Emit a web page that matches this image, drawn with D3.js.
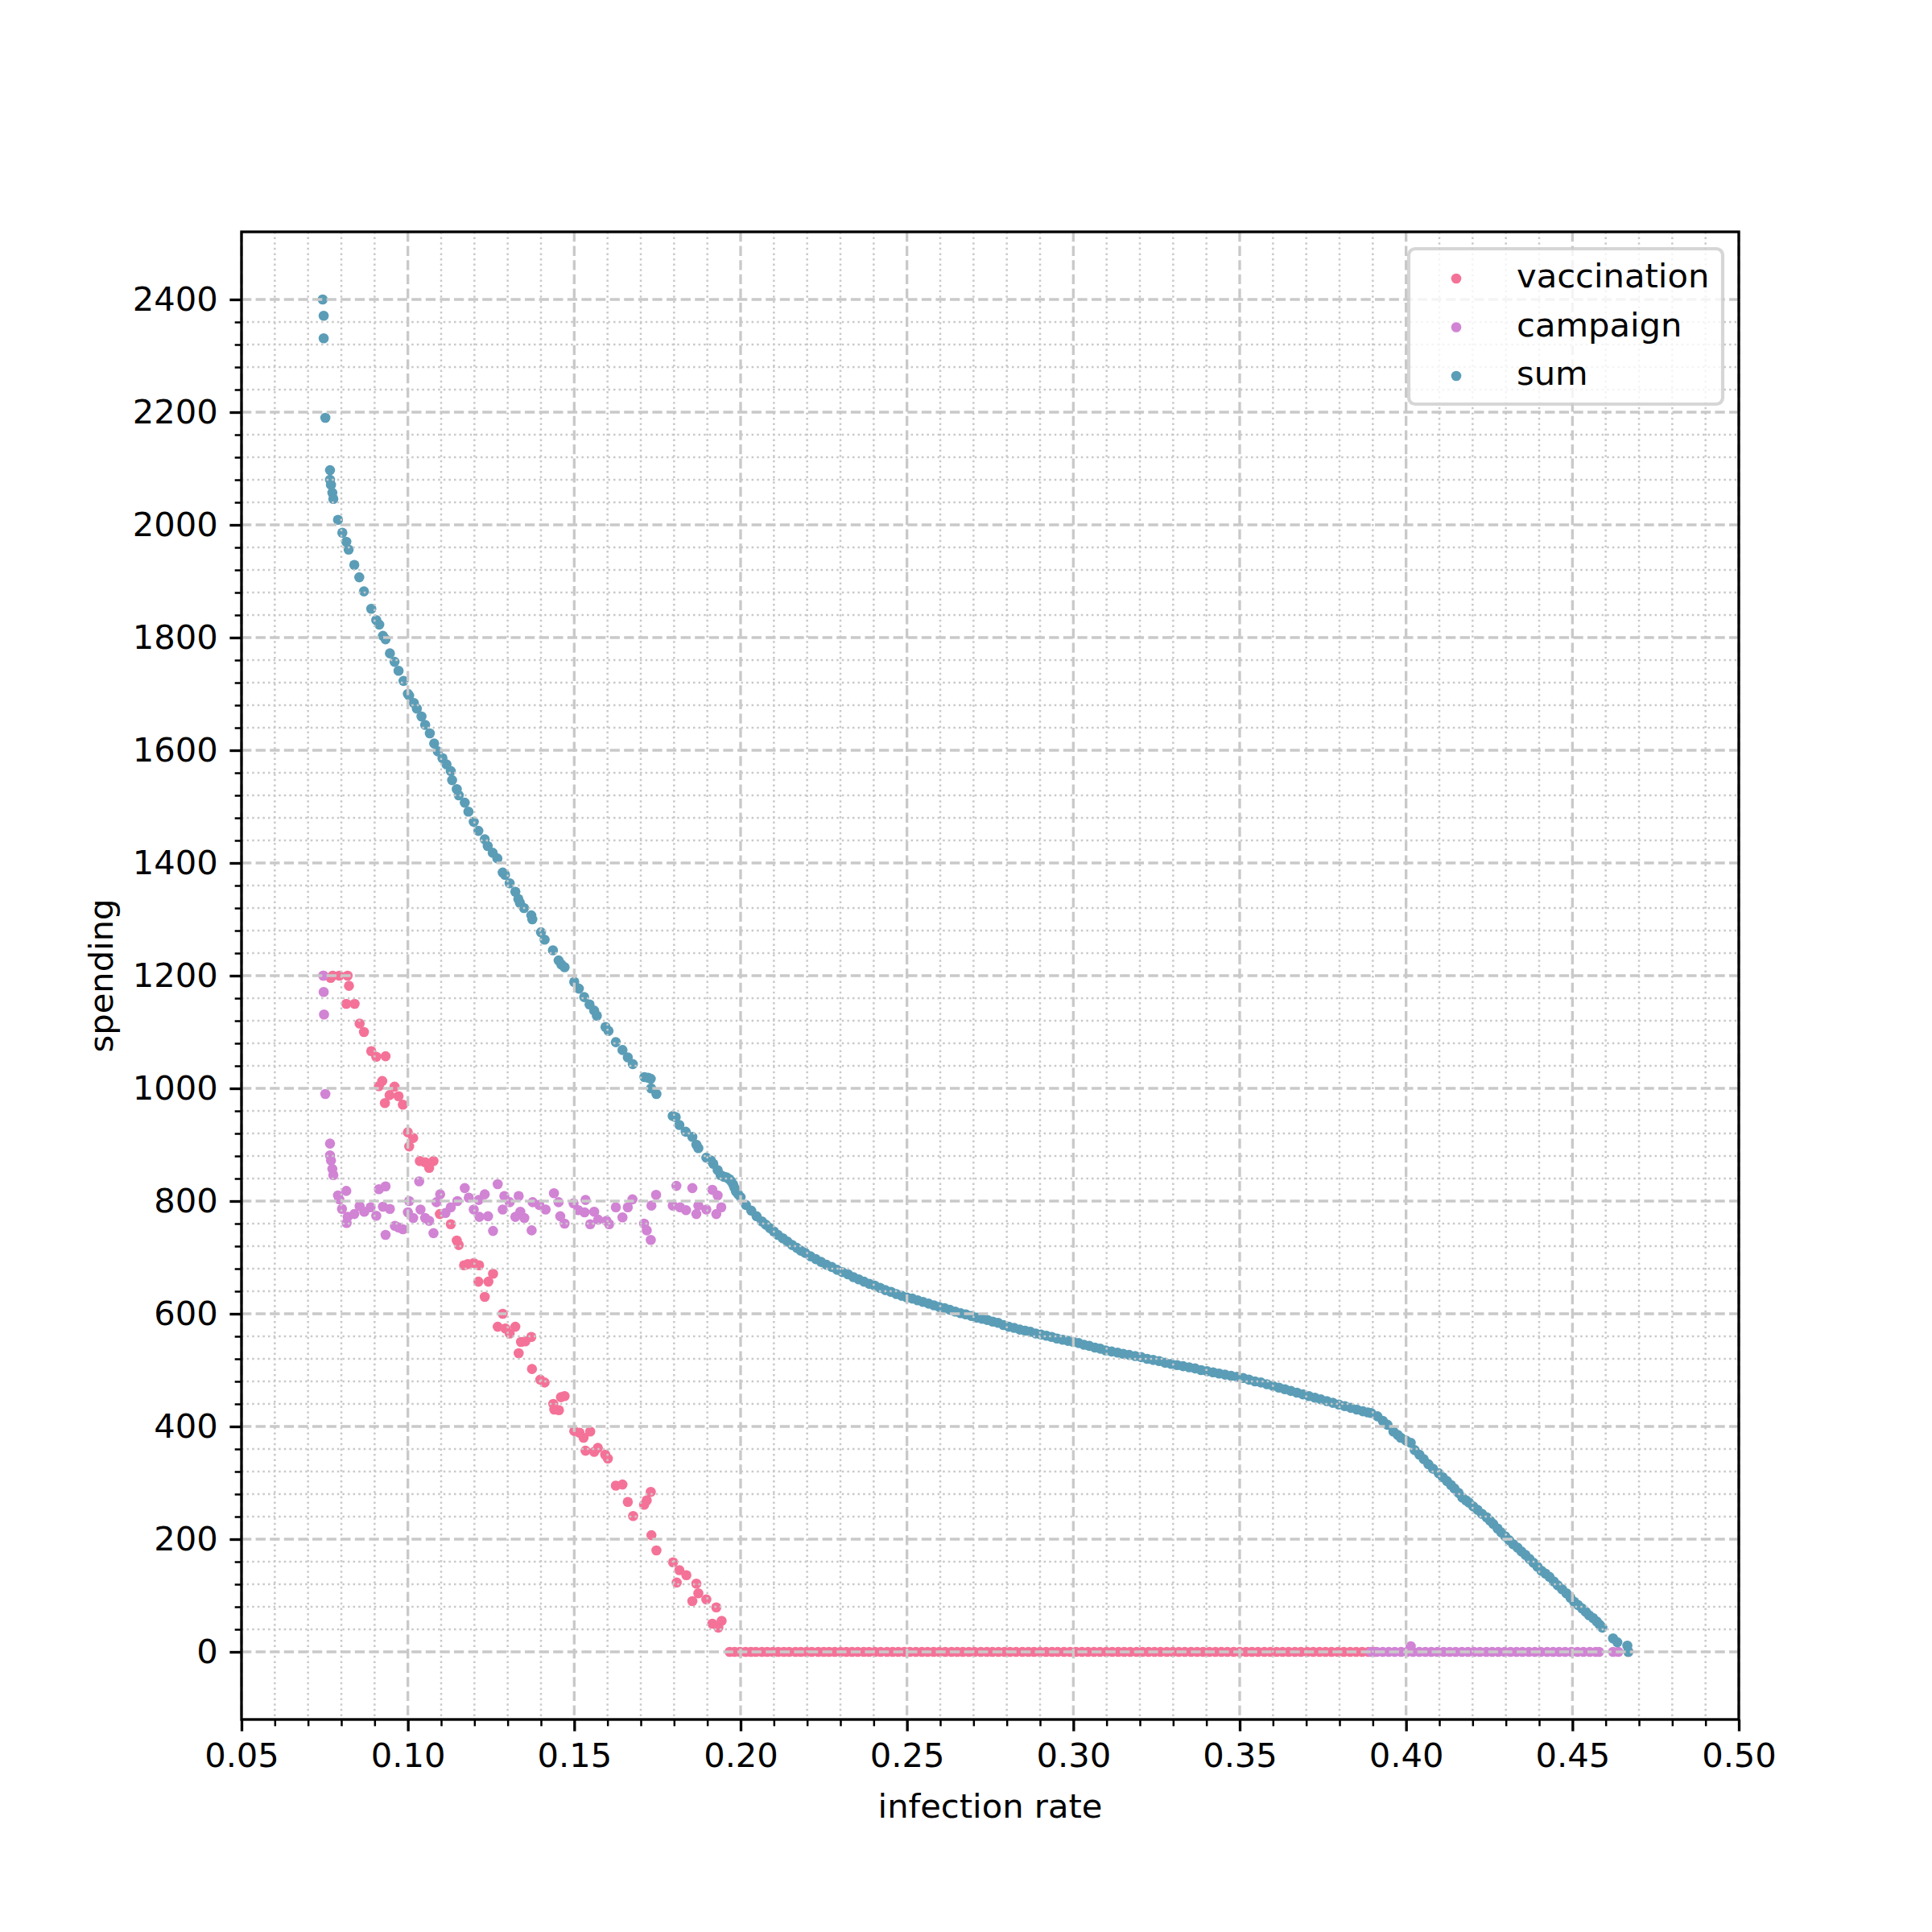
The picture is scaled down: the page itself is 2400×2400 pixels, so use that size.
<!DOCTYPE html>
<html>
<head>
<meta charset="utf-8">
<script src="https://cdn.jsdelivr.net/npm/d3@7"></script>
<style>
    body { margin: 0; background: #fff; }
    svg text { font-family: "DejaVu Sans", sans-serif; }
</style>
</head>
<body>
<div id="chart"></div>
<script>

// ticks
const xTicks = [0.05, 0.10, 0.15, 0.20, 0.25, 0.30, 0.35, 0.40, 0.45, 0.50];
const xTickLabels = ["0.05", "0.10", "0.15", "0.20", "0.25", "0.30", "0.35", "0.40", "0.45", "0.50"];
const yTicks = [0, 200, 400, 600, 800, 1000, 1200, 1400, 1600, 1800, 2000, 2200, 2400];

const seriesNames = ["vaccination", "campaign", "sum"];

// [infection rate, spending]
const vaccinationPoints = [
    [0.0746,1200],[0.0768,1196],[0.0774,1200],[0.0794,1200],[0.0819,1200],[0.0823,1182],[0.0815,1150],[0.0840,1150],
    [0.0855,1115],[0.0868,1100],[0.0890,1066],[0.0905,1056],[0.0933,1057],[0.0923,1013],[0.0913,1004],[0.0960,1003],
    [0.0945,988],[0.0972,986],[0.0931,974],[0.0985,971],[0.1000,922],[0.1016,912],[0.1004,897],[0.1036,871],
    [0.1052,869],[0.1077,871],[0.1064,859],[0.1096,777],[0.1129,759],[0.1147,730],[0.1153,722],[0.1169,686],
    [0.1180,688],[0.1198,690],[0.1214,686],[0.1212,657],[0.1242,657],[0.1256,671],[0.1231,630],[0.1285,600],
    [0.1270,577],[0.1293,574],[0.1306,565],[0.1323,577],[0.1340,550],[0.1353,551],[0.1371,559],[0.1333,530],
    [0.1373,502],[0.1398,483],[0.1411,478],[0.1437,440],[0.1440,430],[0.1454,429],[0.1460,452],[0.1471,454],
    [0.1500,392],[0.1516,389],[0.1528,380],[0.1548,391],[0.1534,357],[0.1560,355],[0.1571,362],[0.1593,350],
    [0.1601,343],[0.1625,295],[0.1645,297],[0.1661,266],[0.1677,241],[0.1710,261],[0.1718,269],[0.1730,284],
    [0.1732,207],[0.1747,180],[0.1797,159],[0.1816,145],[0.1837,136],[0.1808,123],[0.1867,121],[0.1873,104],
    [0.1855,90],[0.1897,93],[0.1927,79],[0.1915,50],[0.1933,43],[0.1943,55],[0.4668,0]
];
// rates where vaccination spending is 0
const vaccinationZeroRates = [
    0.1967,0.1982,0.1998,0.2015,0.2031,0.2046,0.2064,0.2080,0.2097,0.2113,0.2130,0.2146,0.2165,0.2181,0.2198,0.2214,
    0.2233,0.2250,0.2266,0.2283,0.2301,0.2318,0.2335,0.2352,0.2370,0.2386,0.2404,0.2421,0.2440,0.2457,0.2474,0.2492,
    0.2509,0.2527,0.2545,0.2562,0.2580,0.2597,0.2615,0.2634,0.2651,0.2668,0.2686,0.2703,0.2722,0.2740,0.2757,0.2775,
    0.2793,0.2810,0.2828,0.2847,0.2865,0.2882,0.2900,0.2918,0.2936,0.2953,0.2972,0.2990,0.3008,0.3026,0.3044,0.3062,
    0.3080,0.3099,0.3117,0.3135,0.3153,0.3171,0.3190,0.3208,0.3226,0.3244,0.3262,0.3281,0.3299,0.3317,0.3335,0.3354,
    0.3372,0.3390,0.3409,0.3427,0.3445,0.3463,0.3482,0.3500,0.3519,0.3537,0.3555,0.3574,0.3592,0.3611,0.3629,0.3647,
    0.3666,0.3684,0.3703,0.3721,0.3740,0.3758,0.3776,0.3795,0.3813,0.3832,0.3850,0.3868,0.3887,0.3905
];

const campaignPoints = [
    [0.0746,1200],[0.0747,1171],[0.0748,1131],[0.0752,990],[0.0766,902],[0.0766,881],[0.0769,872],[0.0773,857],
    [0.0776,846],[0.0790,810],[0.0815,818],[0.0794,803],[0.0802,786],[0.0819,772],[0.0816,761],[0.0839,777],
    [0.0855,791],[0.0869,781],[0.0888,789],[0.0905,774],[0.0913,821],[0.0933,826],[0.0925,790],[0.0946,786],
    [0.0933,740],[0.0961,756],[0.0985,750],[0.0972,753],[0.1004,800],[0.1000,780],[0.1016,770],[0.1034,835],
    [0.1038,785],[0.1052,770],[0.1064,765],[0.1077,743],[0.1086,798],[0.1097,812],[0.1113,779],[0.1129,789],
    [0.1149,800],[0.1171,823],[0.1183,806],[0.1198,785],[0.1215,772],[0.1213,802],[0.1231,812],[0.1241,773],
    [0.1256,747],[0.1270,830],[0.1290,809],[0.1306,798],[0.1285,785],[0.1333,809],[0.1323,772],[0.1338,781],
    [0.1350,770],[0.1372,748],[0.1375,798],[0.1395,793],[0.1414,785],[0.1439,814],[0.1453,798],[0.1458,773],
    [0.1471,760],[0.1498,796],[0.1512,784],[0.1534,802],[0.1531,780],[0.1548,759],[0.1560,781],[0.1572,767],
    [0.1597,765],[0.1605,759],[0.1625,789],[0.1645,771],[0.1661,789],[0.1675,803],[0.1710,760],[0.1718,748],
    [0.1730,731],[0.1732,792],[0.1746,811],[0.1807,827],[0.1796,792],[0.1818,789],[0.1836,784],[0.1855,823],
    [0.1873,792],[0.1867,777],[0.1897,785],[0.1915,820],[0.1931,810],[0.1927,777],[0.1942,789],[0.4014,10]
];
// rates where campaign spending is 0
const campaignZeroRates = [
    0.3895,0.3912,0.3930,0.3948,0.3966,0.3985,0.4003,0.4021,0.4040,0.4058,0.4076,0.4094,0.4113,0.4131,0.4149,0.4168,
    0.4186,0.4204,0.4222,0.4241,0.4259,0.4277,0.4296,0.4314,0.4332,0.4350,0.4369,0.4387,0.4405,0.4424,0.4442,0.4460,
    0.4478,0.4497,0.4515,0.4533,0.4552,0.4570,0.4580,0.4622,0.4638
];

const sumPoints = [
    [0.0744,2400],[0.0747,2371],[0.0747,2331],[0.0752,2190],[0.0766,2097],[0.0766,2080],[0.0769,2071],[0.0773,2057],
    [0.0776,2046],[0.0790,2009],[0.0803,1986],[0.0815,1970],[0.0822,1956],[0.0839,1929],[0.0854,1907],[0.0868,1882],
    [0.0890,1851],[0.0905,1831],[0.0914,1823],[0.0925,1803],[0.0933,1797],[0.0946,1772],[0.0960,1757],[0.0972,1741],
    [0.0987,1723],[0.1000,1700],[0.1004,1697],[0.1018,1684],[0.1027,1674],[0.1041,1660],[0.1052,1645],[0.1066,1630],
    [0.1079,1612],[0.1090,1598],[0.1104,1586],[0.1116,1575],[0.1129,1563],[0.1133,1547],[0.1147,1531],[0.1153,1520],
    [0.1171,1507],[0.1182,1491],[0.1198,1473],[0.1212,1457],[0.1231,1442],[0.1240,1430],[0.1255,1418],[0.1269,1408],
    [0.1285,1383],[0.1292,1379],[0.1306,1364],[0.1323,1349],[0.1332,1336],[0.1337,1329],[0.1349,1320],[0.1371,1307],
    [0.1374,1300],[0.1400,1277],[0.1411,1264],[0.1436,1245],[0.1453,1227],[0.1461,1220],[0.1471,1215],[0.1500,1189],
    [0.1514,1177],[0.1530,1162],[0.1546,1149],[0.1560,1138],[0.1568,1129],[0.1594,1109],[0.1603,1102],[0.1625,1082],
    [0.1645,1068],[0.1661,1055],[0.1676,1043],[0.1711,1020],[0.1722,1019],[0.1730,1017],[0.1731,1000],[0.1747,990],
    [0.1796,951],[0.1805,949],[0.1816,935],[0.1835,923],[0.1855,914],[0.1867,900],[0.1873,894],[0.1897,877],
    [0.1911,872],[0.1918,866],[0.1931,855],[0.1940,846],[0.1950,843],[0.1958,842],[0.1966,839],[0.1972,835],
    [0.1978,829],[0.1982,823],[0.1986,817],[0.1993,812],[0.2000,807],[0.2016,793],[0.2032,783],[0.2048,773],
    [0.2064,764],[0.2076,758],[0.2088,752],[0.2100,746],[0.2112,740],[0.2127,734],[0.2141,728],[0.2155,722],
    [0.2169,717],[0.2181,712],[0.2194,708],[0.2210,702],[0.2226,697],[0.2242,692],[0.2258,687],[0.2274,683],
    [0.2290,678],[0.2306,674],[0.2323,670],[0.2339,665],[0.2355,661],[0.2371,657],[0.2387,653],[0.2403,650],
    [0.2419,646],[0.2435,642],[0.2452,639],[0.2468,635],[0.2484,632],[0.2500,629],[0.2516,627],[0.2532,624],
    [0.2548,621],[0.2565,618],[0.2581,615],[0.2597,612],[0.2613,610],[0.2629,607],[0.2645,604],[0.2661,601],
    [0.2677,599],[0.2694,596],[0.2710,593],[0.2726,591],[0.2742,589],[0.2758,586],[0.2774,584],[0.2790,580],
    [0.2806,577],[0.2822,575],[0.2839,572],[0.2855,570],[0.2871,568],[0.2887,565],[0.2903,563],[0.2919,561],
    [0.2935,559],[0.2951,556],[0.2968,554],[0.2984,552],[0.3000,550],[0.3016,548],[0.3032,545],[0.3048,543],
    [0.3065,540],[0.3081,538],[0.3097,535],[0.3115,533],[0.3133,531],[0.3150,529],[0.3168,527],[0.3186,525],
    [0.3204,523],[0.3222,520],[0.3240,518],[0.3258,516],[0.3276,513],[0.3294,511],[0.3312,509],[0.3330,507],
    [0.3348,505],[0.3366,503],[0.3384,500],[0.3402,498],[0.3420,496],[0.3438,494],[0.3456,492],[0.3474,490],
    [0.3492,488],[0.3510,486],[0.3528,483],[0.3546,480],[0.3564,478],[0.3582,475],[0.3600,472],[0.3618,469],
    [0.3636,466],[0.3654,463],[0.3672,460],[0.3690,457],[0.3708,454],[0.3726,451],[0.3744,448],[0.3762,445],
    [0.3780,442],[0.3798,439],[0.3816,436],[0.3834,433],[0.3852,430],[0.3870,427],[0.3885,425],[0.3895,424],
    [0.3914,418],[0.3930,410],[0.3944,403],[0.3962,391],[0.3975,385],[0.3984,380],[0.4000,375],[0.4014,371],
    [0.4026,358],[0.4040,350],[0.4053,342],[0.4067,333],[0.4081,325],[0.4098,317],[0.4110,310],[0.4123,303],
    [0.4135,296],[0.4145,290],[0.4158,282],[0.4169,274],[0.4180,269],[0.4189,265],[0.4202,258],[0.4215,252],
    [0.4228,245],[0.4242,239],[0.4252,233],[0.4262,227],[0.4275,219],[0.4286,212],[0.4298,205],[0.4310,198],
    [0.4322,191],[0.4335,185],[0.4347,178],[0.4359,172],[0.4371,165],[0.4383,158],[0.4395,151],[0.4407,144],
    [0.4419,139],[0.4431,133],[0.4444,125],[0.4456,118],[0.4469,111],[0.4482,104],[0.4494,96],[0.4505,89],
    [0.4517,83],[0.4529,77],[0.4540,71],[0.4550,65],[0.4562,60],[0.4573,54],[0.4582,48],[0.4590,43],
    [0.4622,24],[0.4635,17],[0.4665,11],[0.4668,0]
];

const seriesColors = ["#f47298", "#d183d4", "#5b9db7"];


class ScatterGraph
{
    constructor(config)
    {
        this.config = config;
        this.margins = null;

        this.xScale = null;
        this.yScale = null;

        this.createSvg();
        this.createMargins();
        this.createScales();
    }

    createSvg()
    {
        this.svg = d3.select(this.config.div)
            .append("svg")
            .attr("width", this.config.width + this.config.left + this.config.right)
            .attr("height", this.config.height + this.config.top + this.config.bottom);

        this.svg.append("rect")
            .attr("width", "100%")
            .attr("height", "100%")
            .attr("fill", "#fff");
    }

    createMargins()
    {
        this.margins = this.svg
            .append("g")
            .attr("transform", `translate(${this.config.left},${this.config.top})`);
    }

    createScales()
    {
        this.xScale = d3.scaleLinear().domain([0.05, 0.5]).range([0, this.config.width]);
        this.yScale = d3.scaleLinear().domain([-120, 2520]).range([this.config.height, 0]);
    }

    drawPoints(points, color)
    {
        this.margins.append("g")
            .selectAll("circle")
            .data(points)
            .join("circle")
            .attr("cx", d => this.xScale(d[0]))
            .attr("cy", d => this.yScale(d[1]))
            .attr("r", this.config.dot)
            .attr("fill", color);
    }

    // grid is drawn over the dots, like in matplotlib
    createGrid()
    {
        const w = this.config.width, h = this.config.height;
        const xMinor = d3.range(6, 50).filter(i => i % 5).map(i => i / 100);
        const yMinor = d3.range(40, 2400, 40).filter(v => v % 200);

        const grid = this.margins.append("g").attr("fill", "none").attr("stroke", "#c9c9c9");

        const minor = grid.append("g").attr("stroke-width", 2.5).attr("stroke-dasharray", "2.5,4.1");
        minor.selectAll(".vx").data(xMinor).join("line")
            .attr("x1", d => this.xScale(d)).attr("x2", d => this.xScale(d))
            .attr("y1", 0).attr("y2", h);
        minor.selectAll(".hy").data(yMinor).join("line")
            .attr("y1", d => this.yScale(d)).attr("y2", d => this.yScale(d))
            .attr("x1", 0).attr("x2", w);

        const major = grid.append("g").attr("stroke-width", 3.33).attr("stroke-dasharray", "12.3,5.3");
        major.selectAll(".vx").data(xTicks).join("line")
            .attr("x1", d => this.xScale(d)).attr("x2", d => this.xScale(d))
            .attr("y1", 0).attr("y2", h);
        major.selectAll(".hy").data(yTicks).join("line")
            .attr("y1", d => this.yScale(d)).attr("y2", d => this.yScale(d))
            .attr("x1", 0).attr("x2", w);
    }

    createAxis()
    {
        const fs = this.config.fontSize;
        const xMinor = d3.range(6, 50).filter(i => i % 5).map(i => i / 100);
        const yMinor = d3.range(40, 2400, 40).filter(v => v % 200);

        let xAxis = d3.axisBottom(this.xScale)
            .tickValues(xTicks)
            .tickFormat((d, i) => xTickLabels[i])
            .tickSize(14.6).tickPadding(14.6);
        let yAxis = d3.axisLeft(this.yScale)
            .tickValues(yTicks)
            .tickFormat(d3.format("d"))
            .tickSize(14.6).tickPadding(14.6);

        this.margins.append("g")
            .attr("transform", `translate(0,${this.config.height})`)
            .call(xAxis);
        this.margins.append("g").call(yAxis);

        this.margins.append("g")
            .attr("transform", `translate(0,${this.config.height})`)
            .call(d3.axisBottom(this.xScale).tickValues(xMinor).tickSize(8.33).tickFormat(""))
            .attr("class", "minor");
        this.margins.append("g")
            .call(d3.axisLeft(this.yScale).tickValues(yMinor).tickSize(8.33).tickFormat(""))
            .attr("class", "minor");

        this.margins.selectAll(".domain").remove();
        this.margins.selectAll(".tick line").attr("stroke", "#000").attr("stroke-width", 3.33);
        this.margins.selectAll(".minor .tick line").attr("stroke-width", 2.5);
        this.margins.selectAll(".tick text")
            .attr("fill", "#000")
            .style("font-size", fs + "px")
            .style("font-family", "'DejaVu Sans', sans-serif");

        // spines
        this.margins.append("rect")
            .attr("width", this.config.width)
            .attr("height", this.config.height)
            .attr("fill", "none")
            .attr("stroke", "#000")
            .attr("stroke-width", 3.33);

        this.svg.append("text")
            .attr("x", this.config.left + this.config.width / 2)
            .attr("y", 2258)
            .attr("text-anchor", "middle")
            .style("font-size", fs + "px")
            .text("infection rate");

        this.svg.append("text")
            .attr("transform", `translate(140,${this.config.top + this.config.height / 2}) rotate(-90)`)
            .attr("text-anchor", "middle")
            .style("font-size", fs + "px")
            .text("spending");
    }

    createLegend()
    {
        const fs = this.config.fontSize;
        const lg = this.svg.append("g").attr("transform", "translate(1750,309)");

        lg.append("rect")
            .attr("width", 390)
            .attr("height", 193)
            .attr("rx", 8)
            .attr("fill", "#fff")
            .attr("fill-opacity", 0.8)
            .attr("stroke", "#cccccc")
            .attr("stroke-opacity", 0.8)
            .attr("stroke-width", 4.17);

        const rows = lg.selectAll(".row")
            .data(seriesNames)
            .join("g")
            .attr("transform", (d, i) => `translate(0,${37 + i * 60.5})`);

        rows.append("circle")
            .attr("cx", 59)
            .attr("r", this.config.dot)
            .attr("fill", (d, i) => seriesColors[i]);

        rows.append("text")
            .attr("x", 134)
            .attr("y", 11)
            .style("font-size", fs + "px")
            .text(d => d);
    }
}

const graph = new ScatterGraph({
    div: "#chart",
    width: 1860, height: 1848,
    left: 300, right: 240, top: 288, bottom: 264,
    dot: 6.3,
    fontSize: 41.67
});

graph.drawPoints(vaccinationPoints.concat(vaccinationZeroRates.map(r => [r, 0])), seriesColors[0]);
graph.drawPoints(campaignPoints.concat(campaignZeroRates.map(r => [r, 0])), seriesColors[1]);
graph.drawPoints(sumPoints, seriesColors[2]);
graph.createGrid();
graph.createAxis();
graph.createLegend();

</script>
</body>
</html>
